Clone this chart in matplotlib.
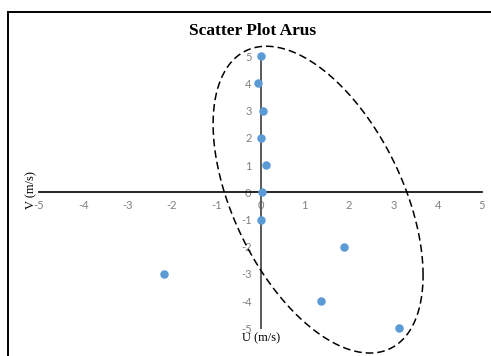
import numpy as np
import matplotlib.pyplot as plt
from matplotlib.patches import Rectangle

# wind data (U, V) in m/s
u_vals = [0.0, -0.05, 0.05, 0.0, 0.13, 0.03, 0.0, 1.88, -2.17, 1.37, 3.13]
v_vals = [5, 4, 3, 2, 1, 0, -1, -2, -3, -4, -5]

ticks = [-5, -4, -3, -2, -1, 0, 1, 2, 3, 4, 5]

# hand-drawn ellipse around the cluster (data units)
ell_center = (1.30, -0.27)
ell_half_u = 2.37
ell_half_v = 5.64
ell_phase = -0.515

W, H = 491, 356
fig = plt.figure(figsize=(W / 100, H / 100), dpi=100)
ax = fig.add_axes([39 / W, 1 - 328.3 / H, 443 / W, 272 / H])

ax.set_xlim(-5, 5)
ax.set_ylim(-5, 5)

# cross-shaped axes through the origin
ax.spines["left"].set_position("zero")
ax.spines["bottom"].set_position("zero")
ax.spines["right"].set_visible(False)
ax.spines["top"].set_visible(False)
ax.spines["bottom"].set_color("black")
ax.spines["bottom"].set_linewidth(1.2)
ax.spines["left"].set_color("#595959")
ax.spines["left"].set_linewidth(1.4)

ax.set_xticks(ticks)
ax.set_yticks(ticks)
ax.set_xticklabels([str(t) for t in ticks])
ax.set_yticklabels([str(t) for t in ticks])
ax.tick_params(length=0, labelsize=8, labelcolor="#808080")
ax.tick_params(axis="x", pad=5.5)
ax.tick_params(axis="y", pad=6.5)
for lab in ax.get_xticklabels() + ax.get_yticklabels():
    lab.set_fontfamily("Lato")

ax.scatter(u_vals, v_vals, s=26, color="#5B9BD5", zorder=5, clip_on=False)

t = np.linspace(0, 2 * np.pi, 400)
ex = ell_center[0] + ell_half_u * np.cos(t)
ey = ell_center[1] + ell_half_v * np.sin(t + ell_phase)
ax.plot(ex, ey, color="black", lw=1.1, ls=(0, (5, 2.6)), clip_on=False, zorder=4)

fig.text(253 / W, 1 - 31 / H, "Scatter Plot Arus", ha="center", va="center",
         fontsize=12.5, fontweight="bold", family="Liberation Serif")
fig.text(261 / W, 1 - 338 / H, "U (m/s)", ha="center", va="center",
         fontsize=9, family="Liberation Serif")
fig.text(31 / W, 1 - 190 / H, "V (m/s)", ha="center", va="center",
         rotation=90, fontsize=9, family="Liberation Serif")

# chart border (runs off the right and bottom edges)
fig.patches.append(Rectangle((7.5 / W, -1.0), 2.0, 2.0 - 11.5 / H,
                             transform=fig.transFigure, fill=False,
                             edgecolor="black", lw=1.4, figure=fig))

fig.savefig("out.png", dpi=100)
